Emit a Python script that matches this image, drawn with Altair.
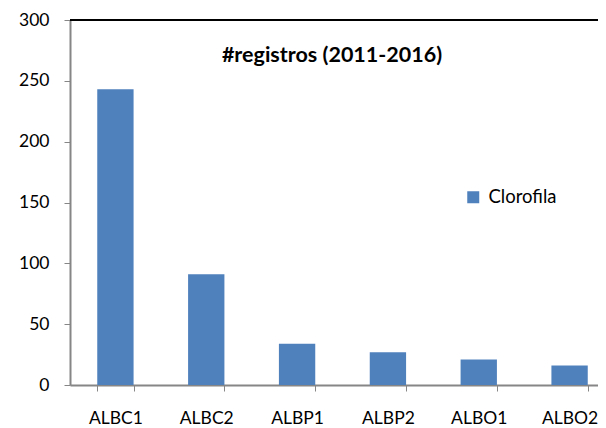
import altair as alt
import pandas as pd

categories = ["ALBC1", "ALBC2", "ALBP1", "ALBP2", "ALBO1", "ALBO2"]
values = [243, 91, 34, 27, 21, 16]
series = ["Clorofila"] * len(categories)
title_text = "#registros (2011-2016)"

df = pd.DataFrame({"cat": categories, "val": values, "serie": series})
FONT = "Lato"

base = alt.Chart(df)

bars = base.mark_bar(color="#4F81BD").encode(
    x=alt.X(
        "cat:N",
        sort=categories,
        title=None,
        scale=alt.Scale(range=[0, 545], paddingInner=0.6, paddingOuter=0.3),
        axis=alt.Axis(
            labelAngle=0,
            labelFont=FONT,
            labelFontSize=17.5,
            labelColor="#000000",
            labelPadding=18,
            tickBand="extent",
            tickSize=6,
            tickColor="#868686",
            domainColor="#868686",
            domainWidth=2,
            grid=False,
        ),
    ),
    y=alt.Y(
        "val:Q",
        title=None,
        scale=alt.Scale(domain=[0, 300]),
        axis=alt.Axis(
            values=[0, 50, 100, 150, 200, 250, 300],
            labelFont=FONT,
            labelFontSize=17.5,
            labelColor="#000000",
            labelPadding=15,
            tickSize=6,
            tickColor="#868686",
            domainColor="#868686",
            domainWidth=2,
            grid=False,
        ),
    ),
    color=alt.Color(
        "serie:N",
        scale=alt.Scale(range=["#4F81BD"]),
        legend=alt.Legend(
            title=None,
            orient="none",
            legendX=394,
            legendY=168,
            symbolType="square",
            symbolSize=144,
            symbolStrokeWidth=0,
            labelFont=FONT,
            labelFontSize=18.5,
            labelColor="#000000",
            labelOffset=6,
            padding=0,
        ),
    ),
)

top_rule = base.mark_rule(color="#000000", strokeWidth=1.5).encode(y=alt.datum(300))

chart = (
    alt.layer(bars, top_rule)
    .properties(
        width=528,
        height=365,
        title=alt.TitleParams(
            title_text,
            font=FONT,
            fontSize=21.5,
            fontWeight="bold",
            color="#000000",
            anchor="middle",
            dy=59,
            dx=-2,
        ),
        autosize=alt.AutoSizeParams(type="none"),
        padding={"left": 62, "top": 12, "right": 0, "bottom": 43},
    )
    .configure_view(stroke=None)
    .configure(background="white")
)

chart.save("out.html", embed_options={"renderer": "svg", "actions": False})
